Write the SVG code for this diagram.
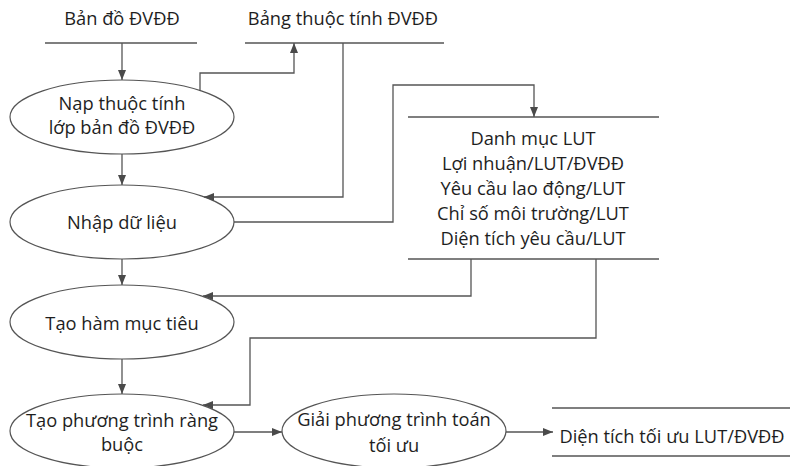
<svg xmlns="http://www.w3.org/2000/svg" width="790" height="466" viewBox="0 0 790 466">
<defs>
<marker id="ah" viewBox="0 0 10 10" refX="10" refY="5" markerWidth="10" markerHeight="10" markerUnits="userSpaceOnUse" orient="auto">
<path d="M0,1 L10,5 L0,9 Z" fill="#4a4a4a"/>
</marker>
</defs>
<style>
.t{font-family:"Open Sans","Noto Sans",sans-serif;font-size:18.3px;fill:#1e1e1e;text-anchor:middle}
.e{fill:#fff;stroke:#555;stroke-width:1.2}
.s{fill:none;stroke:#555;stroke-width:1.3}
.c{fill:none;stroke:#555;stroke-width:1.3;marker-end:url(#ah)}
</style>
<rect width="790" height="466" fill="#fff"/>
<g id="store-ban-do">
<line class="s" x1="45" y1="43" x2="197" y2="43"/>
<text class="t" x="122" y="25">Bản đồ ĐVĐĐ</text>
</g>
<g id="store-bang-thuoc-tinh">
<line class="s" x1="245" y1="43" x2="444" y2="43"/>
<text class="t" x="343" y="25">Bảng thuộc tính ĐVĐĐ</text>
</g>
<g id="store-lut">
<line class="s" x1="408" y1="117" x2="659" y2="117"/>
<line class="s" x1="408" y1="259" x2="659" y2="259"/>
<text class="t" x="533" y="145">Danh mục LUT</text>
<text class="t" x="533" y="170">Lợi nhuận/LUT/ĐVĐĐ</text>
<text class="t" x="533" y="195">Yêu cầu lao động/LUT</text>
<text class="t" x="533" y="220">Chỉ số môi trường/LUT</text>
<text class="t" x="533" y="245">Diện tích yêu cầu/LUT</text>
</g>
<g id="store-dien-tich">
<line class="s" x1="552" y1="408" x2="790" y2="408"/>
<line class="s" x1="552" y1="456" x2="790" y2="456"/>
<text class="t" x="672" y="443">Diện tích tối ưu LUT/ĐVĐĐ</text>
</g>
<g id="node-nap">
<ellipse class="e" cx="122" cy="117" rx="112" ry="37"/>
<text class="t" x="122" y="110">Nạp thuộc tính</text>
<text class="t" x="122" y="134">lớp bản đồ ĐVĐĐ</text>
</g>
<g id="node-nhap">
<ellipse class="e" cx="122" cy="222" rx="112" ry="37"/>
<text class="t" x="122" y="229">Nhập dữ liệu</text>
</g>
<g id="node-ham">
<ellipse class="e" cx="122" cy="322" rx="112" ry="37"/>
<text class="t" x="122" y="330">Tạo hàm mục tiêu</text>
</g>
<g id="node-rang-buoc">
<ellipse class="e" cx="122" cy="431" rx="112" ry="37"/>
<text class="t" x="122" y="427">Tạo phương trình ràng</text>
<text class="t" x="122" y="451">buộc</text>
</g>
<g id="node-giai">
<ellipse class="e" cx="394" cy="431" rx="112" ry="37"/>
<text class="t" x="394" y="426">Giải phương trình toán</text>
<text class="t" x="394" y="452">tối ưu</text>
</g>
<g id="connectors">
<path class="c" d="M122,43 V80"/>
<path class="c" d="M200,90 V73 H294 V43"/>
<path class="c" d="M343,43 V197 H204"/>
<path class="c" d="M234,222 H393 V85 H534 V117"/>
<path class="c" d="M122,154 V185"/>
<path class="c" d="M122,259 V285"/>
<path class="c" d="M471,259 V296 H203"/>
<path class="c" d="M122,359 V394"/>
<path class="c" d="M596,259 V338 H250 V405 H203"/>
<path class="c" d="M234,432 H282"/>
<path class="c" d="M506,432 H553"/>
</g>
</svg>
